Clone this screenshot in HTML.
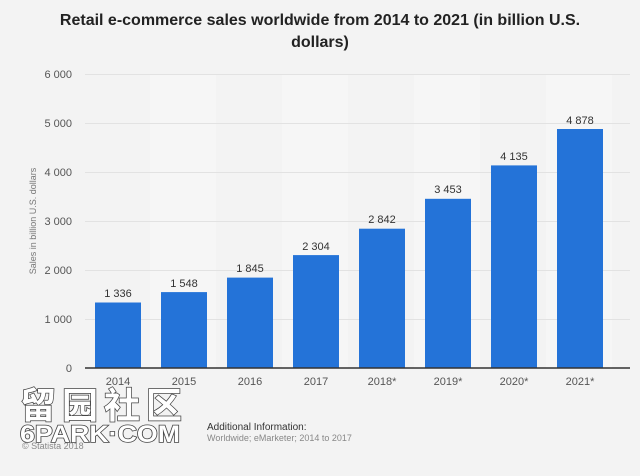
<!DOCTYPE html><html><head><style>
body{margin:0;width:640px;height:476px;background:#f3f3f3;font-family:"Liberation Sans",sans-serif;position:relative;overflow:hidden}
.t{position:absolute;left:0;width:640px;top:10px;text-align:center;font-weight:bold;font-size:16px;line-height:22px;color:#222}
</style></head><body>
<div class="t">Retail e-commerce sales worldwide from 2014 to 2021 (in billion U.S.<br>dollars)</div>
<svg width="640" height="476" style="position:absolute;left:0;top:0" font-family="Liberation Sans,sans-serif">
<g fill="#f6f6f6"><rect x="150" y="74" width="66" height="294"/><rect x="282" y="74" width="66" height="294"/><rect x="414" y="74" width="66" height="294"/><rect x="546" y="74" width="66" height="294"/></g>
<g stroke="#e2e2e2" stroke-width="1">
<line x1="85" x2="630" y1="74.5" y2="74.5"/><line x1="85" x2="630" y1="123.5" y2="123.5"/><line x1="85" x2="630" y1="172.5" y2="172.5"/><line x1="85" x2="630" y1="221.5" y2="221.5"/><line x1="85" x2="630" y1="270.5" y2="270.5"/><line x1="85" x2="630" y1="319.5" y2="319.5"/></g>
<g font-size="11" fill="#555" text-anchor="end">
<text x="72" y="78">6 000</text><text x="72" y="127">5 000</text><text x="72" y="176">4 000</text><text x="72" y="225">3 000</text><text x="72" y="274">2 000</text><text x="72" y="323">1 000</text><text x="72" y="372">0</text></g>
<text transform="translate(36,221) rotate(-90)" font-size="9" fill="#777" text-anchor="middle">Sales in billion U.S. dollars</text>
<g fill="#2473d8">
<rect x="95" y="302.5" width="46" height="65.5"/><rect x="161" y="292.1" width="46" height="75.9"/><rect x="227" y="277.6" width="46" height="90.4"/><rect x="293" y="255.1" width="46" height="112.9"/><rect x="359" y="228.7" width="46" height="139.3"/><rect x="425" y="198.8" width="46" height="169.2"/><rect x="491" y="165.4" width="46" height="202.6"/><rect x="557" y="129" width="46" height="239"/></g>
<line x1="85" x2="630" y1="368" y2="368" stroke="#333" stroke-width="1.5"/>
<g font-size="11" fill="#333" text-anchor="middle">
<text x="118" y="297">1 336</text><text x="184" y="287">1 548</text><text x="250" y="272">1 845</text><text x="316" y="250">2 304</text><text x="382" y="223">2 842</text><text x="448" y="193">3 453</text><text x="514" y="160">4 135</text><text x="580" y="124">4 878</text></g>
<g font-size="11" fill="#555" text-anchor="middle">
<text x="118" y="385">2014</text><text x="184" y="385">2015</text><text x="250" y="385">2016</text><text x="316" y="385">2017</text><text x="382" y="385">2018*</text><text x="448" y="385">2019*</text><text x="514" y="385">2020*</text><text x="580" y="385">2021*</text></g>
<text x="207" y="430" font-size="10" fill="#333">Additional Information:</text>
<text x="207" y="441" font-size="9" fill="#888">Worldwide; eMarketer; 2014 to 2017</text>
<text x="22" y="449" font-size="9" fill="#888">© Statista 2018</text>
<g font-family="Noto Sans CJK SC,sans-serif" font-weight="bold" fill="#fff" stroke="#444" stroke-width="1.5" paint-order="stroke">
<text x="20" y="418" font-size="36" letter-spacing="6">留园社区</text>
<text x="20" y="442" font-size="24" font-family="Liberation Sans,sans-serif" textLength="160" lengthAdjust="spacingAndGlyphs">6PARK·COM</text></g>
</svg>
</body></html>
